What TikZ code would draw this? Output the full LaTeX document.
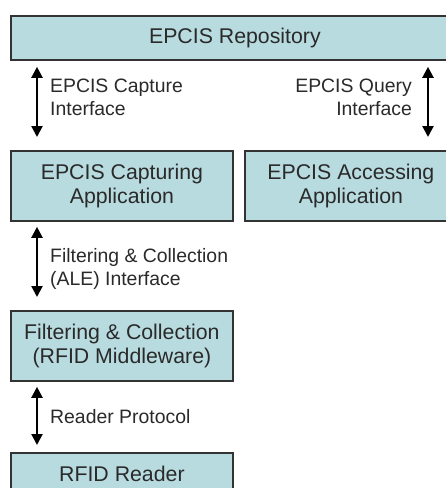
\documentclass[tikz,border=0pt]{standalone}
\usepackage{fontspec}
\setmainfont{Liberation Sans}
\usetikzlibrary{arrows.meta}
\definecolor{boxfill}{HTML}{B8DBDF}
\definecolor{boxline}{HTML}{333333}
\definecolor{txt}{HTML}{2A2A2A}
\tikzset{
  box/.style={draw=boxline, line width=1.8pt, fill=boxfill, anchor=north west,
    inner sep=0pt, align=center, text=txt,
    font=\fontsize{21.3}{24}\selectfont},
  lbl/.style={inner sep=0pt, text=txt, font=\fontsize{19.4}{23}\selectfont},
  biarrow/.style={line width=2.2pt, {Triangle[length=11pt,width=11pt]}-{Triangle[length=11pt,width=11pt]}}
}
\begin{document}
\begin{tikzpicture}[x=1pt,y=-1pt]
\useasboundingbox (0,0) rectangle (446,488);
\clip (0,0) rectangle (446,488);
\fill[white] (0,0) rectangle (446,488);
\node[box, minimum width=448pt, minimum height=44pt] (repo) at (10,15) {EPCIS Repository};
\node[box, minimum width=222pt, minimum height=70pt] (cap) at (10,150) {EPCIS Capturing\\Application};
\node[box, minimum width=212pt, minimum height=70pt] (acc) at (244,150) {EPCIS Accessing\\Application};
\node[box, minimum width=222pt, minimum height=70pt] (filt) at (10,310) {Filtering \& Collection\\(RFID Middleware)};
\node[box, minimum width=222pt, minimum height=42pt] (rfid) at (10,452) {RFID Reader};
\coordinate (L) at (37,0);
\coordinate (R) at (428,0);
\draw[biarrow, shorten <=6pt, shorten >=13pt] (L |- repo.south) -- (L |- cap.north);
\draw[biarrow, shorten <=6pt, shorten >=13pt] (R |- repo.south) -- (R |- acc.north);
\draw[biarrow, shorten <=5pt, shorten >=13pt] (L |- cap.south) -- (L |- filt.north);
\draw[biarrow, shorten <=5pt, shorten >=7pt] (L |- filt.south) -- (L |- rfid.north);
\node[lbl, anchor=west, align=left] (l1) at (50,97) {EPCIS Capture\\Interface};
\node[lbl, anchor=east, align=right] (l2) at (412,97) {EPCIS Query\\Interface};
\node[lbl, anchor=west, align=left] (l3) at (50,269) {Filtering \& Collection\\(ALE) Interface};
\node[lbl, anchor=west, align=left] (l4) at (50,417) {Reader Protocol};
\end{tikzpicture}
\end{document}
